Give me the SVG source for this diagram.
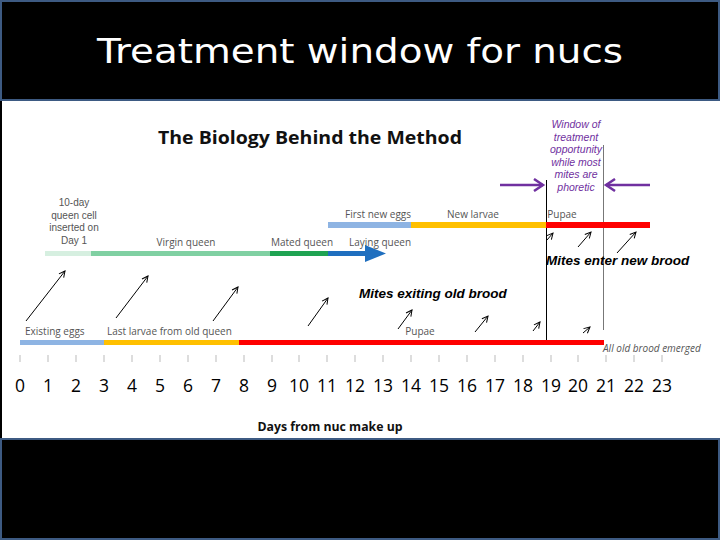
<svg xmlns="http://www.w3.org/2000/svg" width="720" height="540" viewBox="0 0 720 540">
<style>
.lbl{font-family:"Open Sans","Liberation Sans",sans-serif;font-size:10px;fill:#555}
.lbl2{font-family:"Liberation Sans",sans-serif;font-size:10px;fill:#555;text-anchor:middle}
.num{font-family:"Open Sans","Liberation Sans",sans-serif;font-size:17.5px;fill:#000;text-anchor:middle}
.bi{font-family:"Liberation Sans",sans-serif;font-size:13.5px;font-weight:bold;font-style:italic;fill:#000}
.pur{font-family:"Liberation Sans",sans-serif;font-size:10.5px;font-style:italic;fill:#7030a0;text-anchor:middle}
.mite{stroke:#000;stroke-width:1;fill:none;marker-end:url(#ah)}
.tick{stroke:#bbb;stroke-width:1}
</style>
<defs>
<marker id="ah" markerWidth="8" markerHeight="8" refX="7" refY="4" orient="auto" markerUnits="userSpaceOnUse">
<path d="M1,1 L7,4 L1,7" fill="none" stroke="#000" stroke-width="1"/>
</marker>
<marker id="pah" markerWidth="14" markerHeight="14" refX="11" refY="7" orient="auto" markerUnits="userSpaceOnUse">
<path d="M2,1 L11,7 L2,13" fill="none" stroke="#7030a0" stroke-width="2.5"/>
</marker>
</defs>
<rect x="0" y="0" width="720" height="540" fill="#fff"/>
<g id="title-box">
<rect x="1" y="1" width="718" height="99" fill="#000" stroke="#3d5a82" stroke-width="2"/>
<text x="360" y="63" font-family="'DejaVu Sans',sans-serif" font-size="33" fill="#fff" text-anchor="middle" textLength="526" lengthAdjust="spacingAndGlyphs">Treatment window for nucs</text>
</g>
<g id="bottom-box">
<rect x="1" y="439" width="718" height="100" fill="#000" stroke="#3d5a82" stroke-width="2"/>
</g>
<rect x="0" y="101" width="2" height="337" fill="#000"/>
<g id="chart-title">
<text x="310" y="144" font-family="'Open Sans','Liberation Sans',sans-serif" font-size="18" font-weight="bold" fill="#111" text-anchor="middle" textLength="304" lengthAdjust="spacingAndGlyphs">The Biology Behind the Method</text>
</g>
<g id="window">
<line x1="546.5" y1="180" x2="546.5" y2="340" stroke="#000" stroke-width="1"/>
<line x1="603.5" y1="145" x2="603.5" y2="330" stroke="#777" stroke-width="1"/>
<text class="pur" x="576" y="128">Window of</text>
<text class="pur" x="576" y="140.5">treatment</text>
<text class="pur" x="576" y="153">opportunity</text>
<text class="pur" x="576" y="165.5">while most</text>
<text class="pur" x="576" y="178">mites are</text>
<text class="pur" x="576" y="190.5">phoretic</text>
</g>
<g id="queen-line">
<rect x="45" y="251" width="46" height="5" fill="#d6efe0"/>
<rect x="91" y="251" width="180" height="5" fill="#80d0a2"/>
<rect x="270" y="251" width="59" height="5" fill="#1fa352"/>
<rect x="328" y="251" width="38" height="5" fill="#1f6fbf"/>
<polygon points="365,245 386,253.5 365,262" fill="#1f6fbf"/>
<text class="lbl2" x="74" y="206">10-day</text>
<text class="lbl2" x="74" y="218.5">queen cell</text>
<text class="lbl2" x="74" y="231">inserted on</text>
<text class="lbl2" x="74" y="243.5">Day 1</text>
<text class="lbl" x="186" y="246" text-anchor="middle">Virgin queen</text>
<text class="lbl" x="302" y="246" text-anchor="middle">Mated queen</text>
<text class="lbl" x="380" y="246" text-anchor="middle">Laying queen</text>
</g>
<g id="new-brood">
<rect x="328" y="222" width="84" height="6" fill="#8eb4e3"/>
<rect x="411" y="222" width="136" height="6" fill="#ffc000"/>
<rect x="546" y="222" width="104" height="6" fill="#ff0000"/>
<text class="lbl" x="378" y="218" text-anchor="middle">First new eggs</text>
<text class="lbl" x="473" y="218" text-anchor="middle">New larvae</text>
<text class="lbl" x="562" y="218" text-anchor="middle">Pupae</text>
</g>
<g id="old-brood">
<rect x="20" y="340" width="85" height="5" fill="#8eb4e3"/>
<rect x="104" y="340" width="136" height="5" fill="#ffc000"/>
<rect x="239" y="340" width="365" height="5" fill="#ff0000"/>
<text class="lbl" x="25" y="335">Existing eggs</text>
<text class="lbl" x="107" y="335">Last larvae from old queen</text>
<text class="lbl" x="420" y="335" text-anchor="middle">Pupae</text>
<text class="lbl" x="603" y="352" font-style="italic" font-family="Liberation Sans,sans-serif" font-size="10.5">All old brood emerged</text>
</g>
<g id="mites-labels">
<text class="bi" x="359" y="298">Mites exiting old brood</text>
<text class="bi" x="546" y="265">Mites enter new brood</text>
</g>
<g id="connectors">
<line class="mite" x1="26" y1="321" x2="65" y2="271"/>
<line class="mite" x1="116" y1="318" x2="148" y2="276"/>
<line class="mite" x1="213" y1="321" x2="238" y2="287"/>
<line class="mite" x1="308" y1="326" x2="328" y2="298"/>
<line class="mite" x1="398" y1="329" x2="412" y2="310"/>
<line class="mite" x1="475" y1="332" x2="488" y2="316"/>
<line class="mite" x1="533" y1="331" x2="540" y2="322"/>
<line class="mite" x1="583" y1="333" x2="590" y2="327"/>
<line class="mite" x1="547" y1="240" x2="553" y2="233"/>
<line class="mite" x1="578" y1="247" x2="591" y2="232"/>
<line class="mite" x1="617" y1="253" x2="636" y2="232"/>
<line x1="500" y1="185" x2="543" y2="185" stroke="#7030a0" stroke-width="2.5" marker-end="url(#pah)"/>
<line x1="650" y1="185" x2="606" y2="185" stroke="#7030a0" stroke-width="2.5" marker-end="url(#pah)"/>
</g>
<g id="axis">
<g class="tick">
<line x1="20" y1="355" x2="20" y2="362"/><line x1="48" y1="355" x2="48" y2="362"/><line x1="76" y1="355" x2="76" y2="362"/><line x1="104" y1="355" x2="104" y2="362"/><line x1="132" y1="355" x2="132" y2="362"/><line x1="160" y1="355" x2="160" y2="362"/><line x1="188" y1="355" x2="188" y2="362"/><line x1="216" y1="355" x2="216" y2="362"/><line x1="244" y1="355" x2="244" y2="362"/><line x1="272" y1="355" x2="272" y2="362"/><line x1="299" y1="355" x2="299" y2="362"/><line x1="327" y1="355" x2="327" y2="362"/><line x1="355" y1="355" x2="355" y2="362"/><line x1="383" y1="355" x2="383" y2="362"/><line x1="411" y1="355" x2="411" y2="362"/><line x1="439" y1="355" x2="439" y2="362"/><line x1="467" y1="355" x2="467" y2="362"/><line x1="495" y1="355" x2="495" y2="362"/><line x1="523" y1="355" x2="523" y2="362"/><line x1="551" y1="355" x2="551" y2="362"/><line x1="578" y1="355" x2="578" y2="362"/><line x1="606" y1="355" x2="606" y2="362"/><line x1="634" y1="355" x2="634" y2="362"/><line x1="662" y1="355" x2="662" y2="362"/>
</g>
<text class="num" x="20" y="392">0</text><text class="num" x="48" y="392">1</text><text class="num" x="76" y="392">2</text><text class="num" x="104" y="392">3</text><text class="num" x="132" y="392">4</text><text class="num" x="160" y="392">5</text><text class="num" x="188" y="392">6</text><text class="num" x="216" y="392">7</text><text class="num" x="244" y="392">8</text><text class="num" x="272" y="392">9</text><text class="num" x="299" y="392">10</text><text class="num" x="327" y="392">11</text><text class="num" x="355" y="392">12</text><text class="num" x="383" y="392">13</text><text class="num" x="411" y="392">14</text><text class="num" x="439" y="392">15</text><text class="num" x="467" y="392">16</text><text class="num" x="495" y="392">17</text><text class="num" x="523" y="392">18</text><text class="num" x="551" y="392">19</text><text class="num" x="578" y="392">20</text><text class="num" x="606" y="392">21</text><text class="num" x="634" y="392">22</text><text class="num" x="662" y="392">23</text>
<text x="330" y="431" font-family="'Open Sans','Liberation Sans',sans-serif" font-size="12" font-weight="bold" fill="#111" text-anchor="middle" textLength="145" lengthAdjust="spacingAndGlyphs">Days from nuc make up</text>
</g>
</svg>
